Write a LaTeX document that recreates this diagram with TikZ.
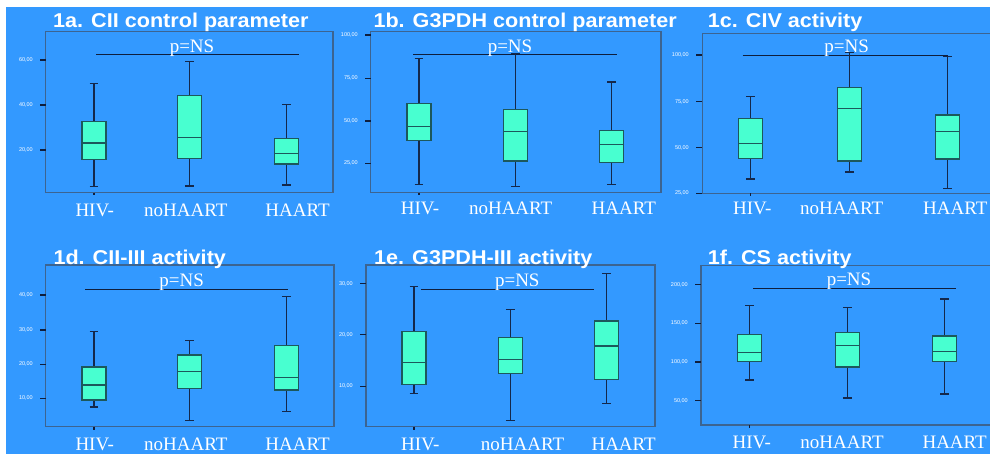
\documentclass[tikz,border=0pt]{standalone}
\usepackage{fontspec}
\usepackage{graphicx}
\setmainfont{Liberation Serif}
\newfontfamily\ttlfont{Liberation Sans}
\definecolor{bg}{RGB}{51,153,255}
\definecolor{boxfill}{RGB}{72,255,208}
\definecolor{boxline}{RGB}{28,88,92}
\definecolor{whiskc}{RGB}{20,40,75}
\definecolor{framec}{RGB}{60,100,145}
\definecolor{tickc}{RGB}{15,30,60}
\tikzset{
 frame/.style={draw=framec, line width=1.1pt},
 whisk/.style={draw=whiskc, line width=1.2pt},
 boxst/.style={draw=boxline, fill=boxfill, line width=1.4pt},
 medst/.style={draw=boxline, line width=1.4pt},
 sigline/.style={draw=tickc, line width=1pt},
 ttl/.style={font=\ttlfont\bfseries\fontsize{20}{22}\selectfont, text=white, anchor=base west, inner sep=0pt},
 cat/.style={font=\fontsize{19}{21}\selectfont, text=white, anchor=base, inner sep=0pt},
 pns/.style={font=\fontsize{19}{21}\selectfont, text=white, anchor=base, inner sep=0pt},
 tkl/.style={font=\ttlfont\fontsize{5.5}{6}\selectfont, text=white, anchor=east, inner sep=0pt},
 tickst/.style={draw=tickc, line width=1.2pt},
}
% cx, whisker top, box top, median, box bottom, whisker bottom
\newcommand\bxp[6]{%
  \draw[whisk] (#1,#2) -- (#1,#3) (#1,#5) -- (#1,#6)
    ({#1-4.3},#2) -- ({#1+4.3},#2) ({#1-4.3},#6) -- ({#1+4.3},#6);
  \draw[boxst] ({#1-12},#3) rectangle ({#1+12},#5);
  \draw[medst] ({#1-12},#4) -- ({#1+12},#4);
}
% name, x tick start, y, label
\newcommand\ytk[4]{%
  \draw[tickst] (#2,#3) -- ({#2+6},#3);
  \node[tkl] (#1) at ({#2-7},#3) {#4};
}
\newcommand\ttltext[1]{\scalebox{1.08}[1]{#1}}
\begin{document}
\begin{tikzpicture}[x=1pt,y=-1pt]
\useasboundingbox (0,0) rectangle (990,454);
\fill[white] (0,0) rectangle (990,454);
\fill[bg] (6,7) rectangle (990,454);

% ---------- 1a ----------
\draw[frame] (45.7,31.7) rectangle (333,192.7);
\ytk{y1a1}{40}{60}{60,00}
\ytk{y1a2}{40}{105}{40,00}
\ytk{y1a3}{40}{150}{20,00}
\draw[tickst] (93.9,192.7) -- (93.9,195.5);
\draw[sigline] (96,55) -- (299,55);
\bxp{93.9}{83.3}{121.3}{143}{159.3}{186.7}
\bxp{189.7}{61.7}{95.3}{137.3}{158.3}{186}
\bxp{286.3}{104.7}{138.3}{153.3}{164}{185}
\node[pns] (p1a) at (192,52.7) {p=NS};
\node[cat] (c1a1) at (94.7,216.7) {HIV-};
\node[cat] (c1a2) at (185.8,216.7) {noHAART};
\node[cat] (c1a3) at (297.5,216.7) {HAART};
\node[ttl] (t1a) at (53,27.7) {\ttltext{1a. CII control parameter}};

% ---------- 1b ----------
\draw[frame] (370.7,31.7) rectangle (661,192.7);
\ytk{y1b1}{365}{35}{100,00}
\ytk{y1b2}{365}{78.3}{75,00}
\ytk{y1b3}{365}{121}{50,00}
\ytk{y1b4}{365}{163.3}{25,00}
\draw[tickst] (419,192.7) -- (419,195.5);
\draw[sigline] (413.3,55) -- (616.7,55);
\bxp{419}{58.3}{103.7}{126.3}{140.3}{184.3}
\bxp{515.5}{53.3}{109.7}{131.7}{161}{186.7}
\bxp{611.3}{82}{130.7}{144.7}{162.3}{184.3}
\node[pns] (p1b) at (510,52.7) {p=NS};
\node[cat] (c1b1) at (420,214.3) {HIV-};
\node[cat] (c1b2) at (510.7,214.3) {noHAART};
\node[cat] (c1b3) at (623.8,214.3) {HAART};
\node[ttl] (t1b) at (373.3,27.7) {\ttltext{1b. G3PDH control parameter}};

% ---------- 1c ----------
\draw[frame] (990,33.3) -| (702.3,193.3) -- (990,193.3);
\ytk{y1c1}{696}{55}{100,00}
\ytk{y1c2}{696}{101.7}{75,00}
\ytk{y1c3}{696}{147.7}{50,00}
\ytk{y1c4}{696}{193.3}{25,00}
\draw[tickst] (750.5,193.3) -- (750.5,196);
\draw[sigline] (742.7,56) -- (948,56);
\bxp{750.5}{96.7}{118.3}{143.3}{158.3}{179}
\bxp{849.2}{52.7}{87.3}{108.7}{161}{172}
\bxp{947.3}{56.7}{115}{131.7}{159}{188.3}
\node[pns] (p1c) at (846.7,52.7) {p=NS};
\node[cat] (c1c1) at (752.2,214.3) {HIV-};
\node[cat] (c1c2) at (841.7,214.3) {noHAART};
\node[cat] (c1c3) at (955.3,214.3) {HAART};
\node[ttl] (t1c) at (707.7,27.7) {\ttltext{1c. CIV activity}};

% ---------- 1d ----------
\draw[frame] (45.7,265) rectangle (334,426.7);
\ytk{y1d1}{40}{295}{40,00}
\ytk{y1d2}{40}{330}{30,00}
\ytk{y1d3}{40}{364.3}{20,00}
\ytk{y1d4}{40}{398.3}{10,00}
\draw[tickst] (93.9,426.7) -- (93.9,429.5);
\draw[sigline] (85,289) -- (288.3,289);
\bxp{93.9}{331.7}{367}{385}{400}{407}
\bxp{189.5}{340.3}{355}{371.3}{388.3}{420.3}
\bxp{286.3}{296.3}{345.3}{377.7}{390}{411.7}
\node[pns] (p1d) at (181.7,286.7) {p=NS};
\node[cat] (c1d1) at (94.7,450.7) {HIV-};
\node[cat] (c1d2) at (185.8,450.7) {noHAART};
\node[cat] (c1d3) at (297.5,450.7) {HAART};
\node[ttl] (t1d) at (53.3,265) {\ttltext{1d. CII-III activity}};

% ---------- 1e ----------
\draw[frame] (366,265) rectangle (655,426.7);
\ytk{y1e1}{360}{283.7}{30,00}
\ytk{y1e2}{360}{334.7}{20,00}
\ytk{y1e3}{360}{386.3}{10,00}
\draw[tickst] (414,426.7) -- (414,429.5);
\draw[sigline] (421,289.3) -- (594,289.3);
\bxp{414}{286.7}{331.3}{362.7}{384.7}{393.3}
\bxp{510.2}{309.7}{337.7}{359.3}{373.3}{420.3}
\bxp{606.7}{273.7}{321}{346}{379.3}{403.7}
\node[pns] (p1e) at (517.3,286.7) {p=NS};
\node[cat] (c1e1) at (420.3,450.7) {HIV-};
\node[cat] (c1e2) at (522.5,450.7) {noHAART};
\node[cat] (c1e3) at (623.7,450.7) {HAART};
\node[ttl] (t1e) at (374,265) {\ttltext{1e. G3PDH-III activity}};

% ---------- 1f ----------
\draw[frame] (990,265.7) -| (701,425) -- (990,425);
\ytk{y1f1}{695}{284.7}{200,00}
\ytk{y1f2}{695}{323.3}{150,00}
\ytk{y1f3}{695}{362}{100,00}
\ytk{y1f4}{695}{400.7}{50,00}
\draw[tickst] (749.5,425) -- (749.5,428);
\draw[sigline] (753.3,288) -- (955.7,288);
\bxp{749.7}{305.3}{334.3}{352.3}{361.3}{380}
\bxp{847.2}{307.3}{332.7}{345.3}{367}{398}
\bxp{944.5}{299}{336}{351.3}{361.7}{394}
\node[pns] (p1f) at (849,285) {p=NS};
\node[cat] (c1f1) at (751.8,448.3) {HIV-};
\node[cat] (c1f2) at (842,448.3) {noHAART};
\node[cat] (c1f3) at (954.7,448.3) {HAART};
\node[ttl] (t1f) at (707.7,265) {\ttltext{1f. CS activity}};
\end{tikzpicture}
\end{document}
